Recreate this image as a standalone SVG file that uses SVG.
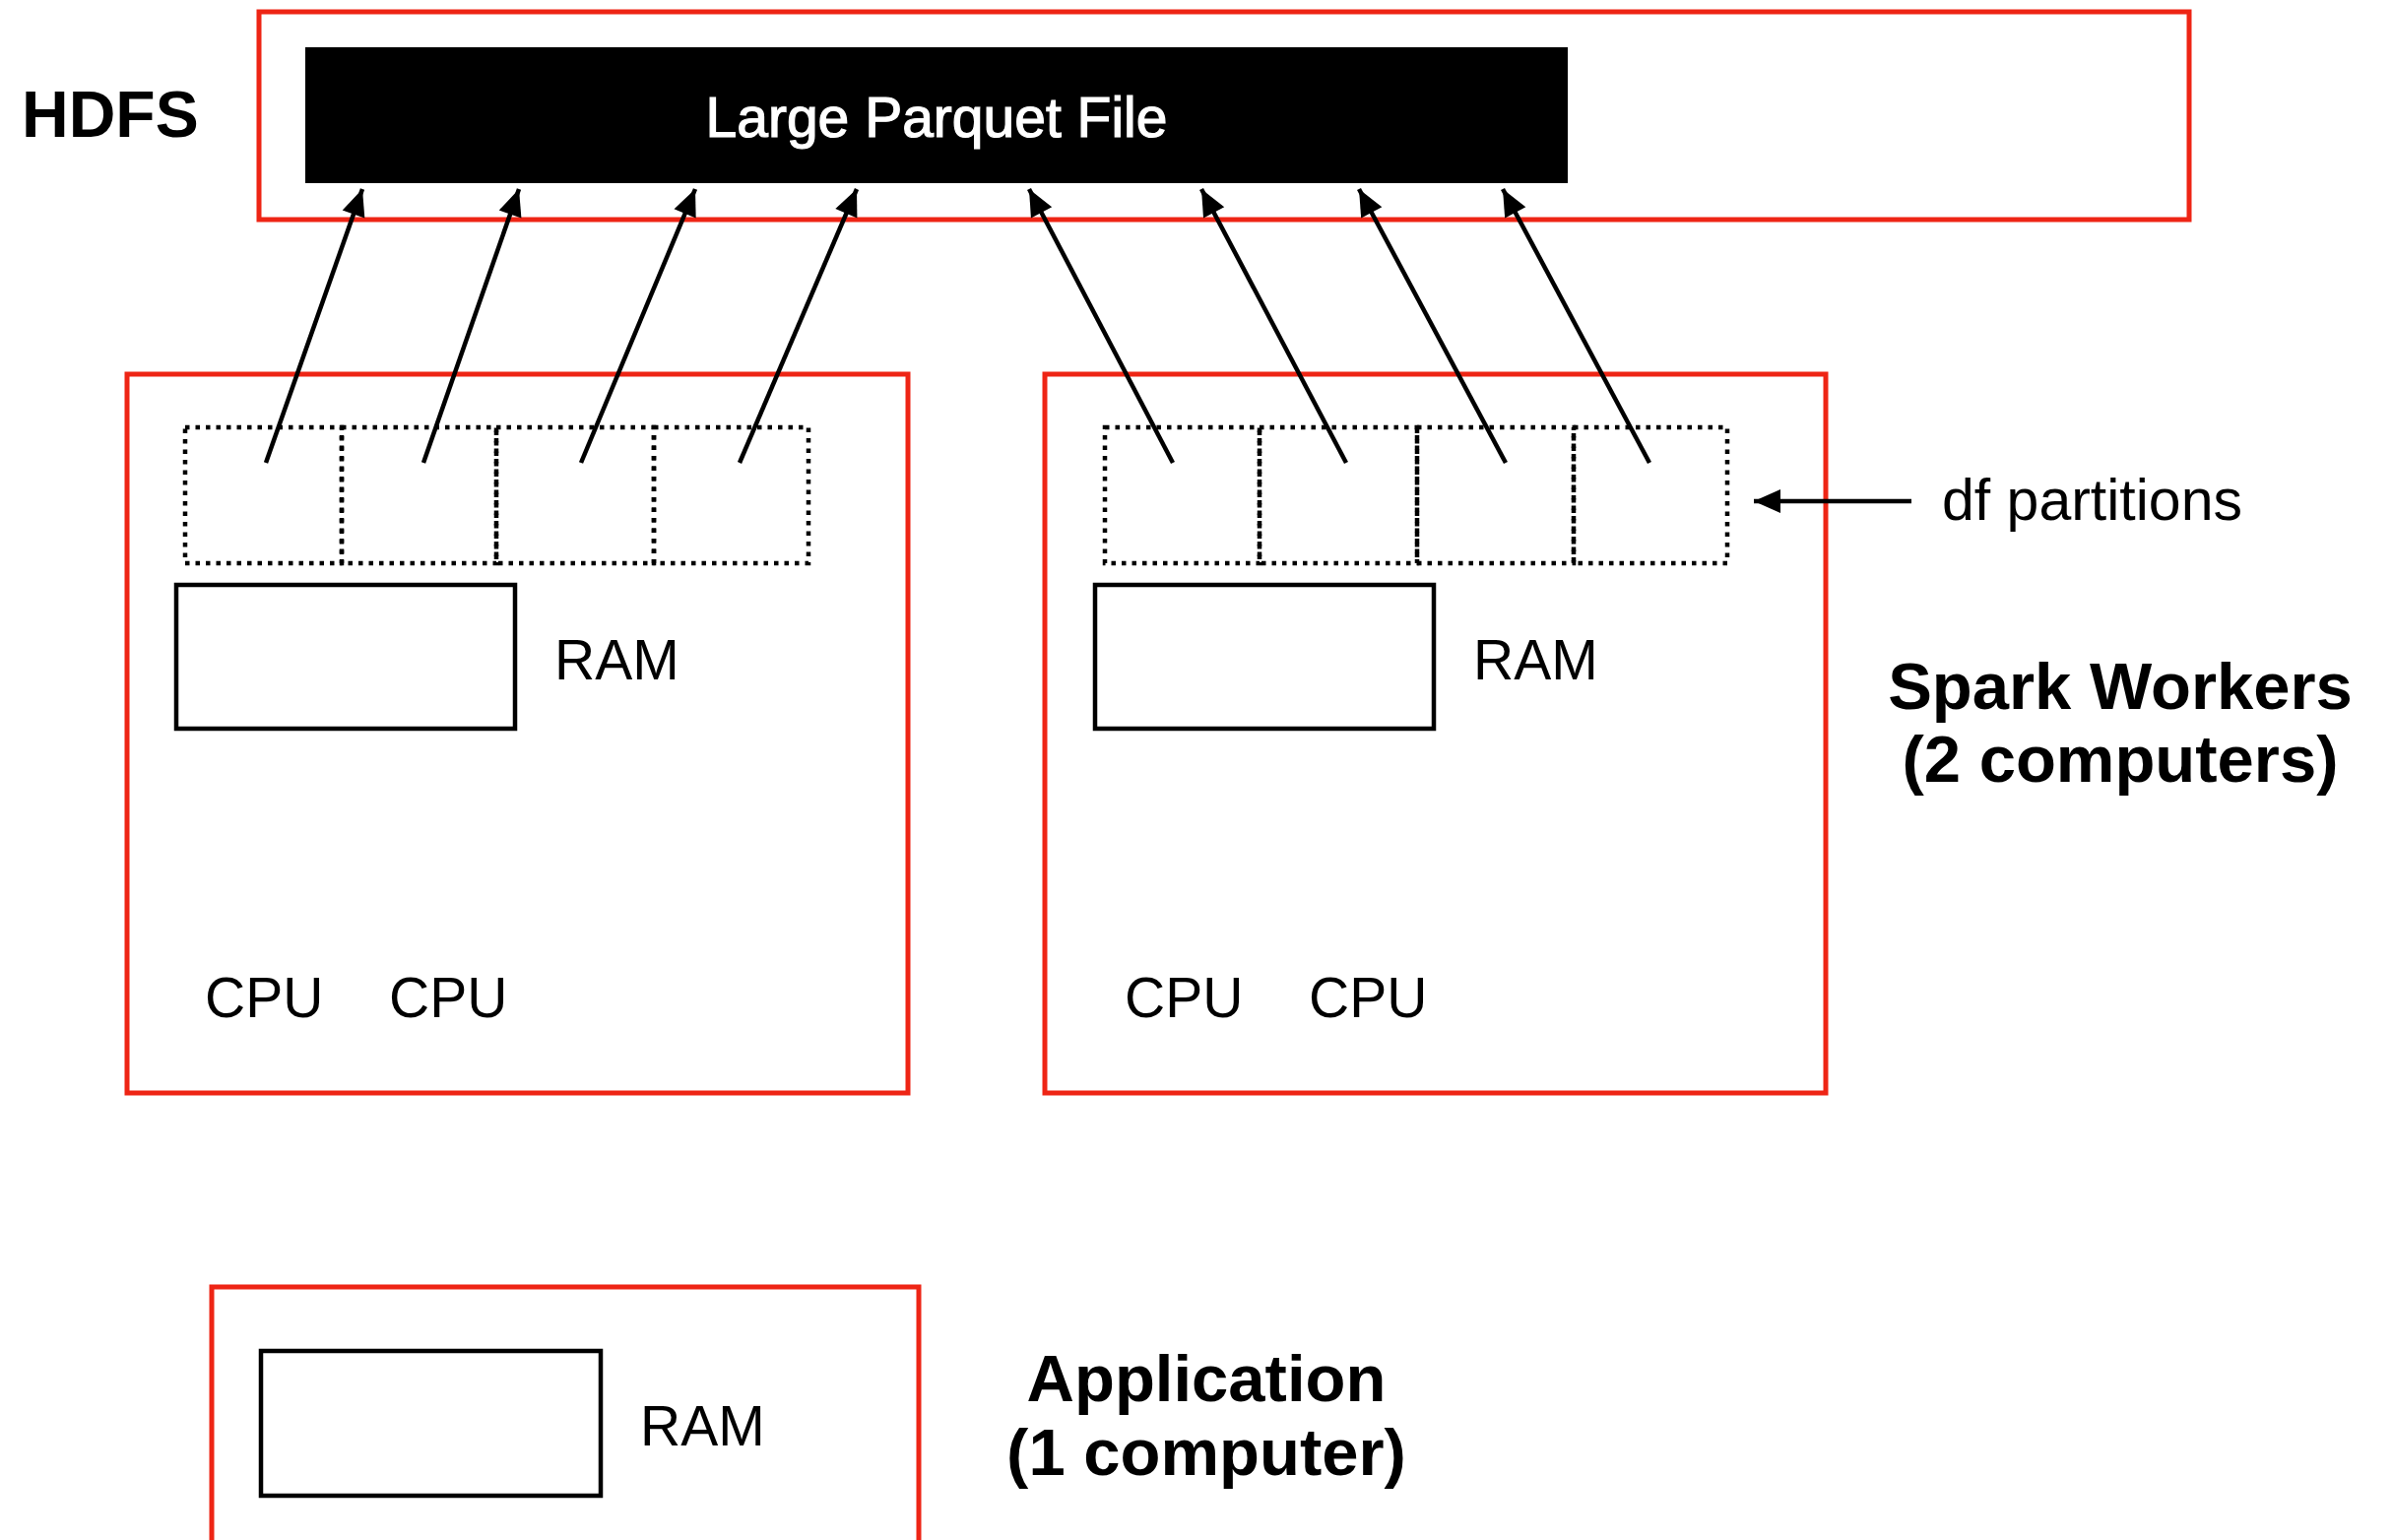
<svg xmlns="http://www.w3.org/2000/svg" width="2429" height="1564" viewBox="0 0 2429 1564">
<style>
.frame{fill:none;stroke:#EE2515;stroke-width:5}
.ram{fill:#fff;stroke:#000;stroke-width:4.5}
.part{fill:none;stroke:#000;stroke-width:4.5;stroke-dasharray:4.5 6}
.t{font-family:"Liberation Sans",Arial,sans-serif;fill:#000}
.lbl{font-size:57px}
.bold{font-size:67px;font-weight:bold}
.conn{stroke:#000;stroke-width:4.5;fill:none;marker-end:url(#ah)}
</style>
<defs>
<marker id="ah" markerUnits="userSpaceOnUse" markerWidth="30" markerHeight="28" viewBox="-28 -14 30 28" refX="0" refY="0" orient="auto">
<path d="M0,0 L-27,-12 L-27,12 Z" fill="#000"/>
</marker>
</defs>
<rect width="2429" height="1564" fill="#fff"/>

<g id="hdfs-label"><text class="t bold" x="22" y="139" font-size="66" style="font-size:66px">HDFS</text></g>
<g id="hdfs">
<rect class="frame" x="263" y="12" width="1960" height="211"/>
<rect x="310" y="48" width="1282" height="138" fill="#000"/>
<text class="t" x="951" y="139" font-size="57" style="fill:#fff;stroke:#fff;stroke-width:1.2" text-anchor="middle">Large Parquet File</text>
</g>

<g id="worker1">
<rect class="frame" x="129" y="380" width="793" height="730"/>
<rect class="part" x="188" y="434" width="159" height="138"/>
<rect class="part" x="347" y="434" width="157" height="138"/>
<rect class="part" x="504" y="434" width="160" height="138"/>
<rect class="part" x="664" y="434" width="157" height="138"/>
<rect class="ram" x="179" y="594" width="344" height="146"/>
<text class="t lbl" x="563" y="690">RAM</text>
<text class="t lbl" x="208" y="1033">CPU</text>
<text class="t lbl" x="395" y="1033">CPU</text>
</g>

<g id="worker2">
<rect class="frame" x="1061" y="380" width="793" height="730"/>
<rect class="part" x="1122" y="434" width="157" height="138"/>
<rect class="part" x="1279" y="434" width="160" height="138"/>
<rect class="part" x="1439" y="434" width="159" height="138"/>
<rect class="part" x="1598" y="434" width="156" height="138"/>
<rect class="ram" x="1112" y="594" width="344" height="146"/>
<text class="t lbl" x="1496" y="690">RAM</text>
<text class="t lbl" x="1142" y="1033">CPU</text>
<text class="t lbl" x="1329" y="1033">CPU</text>
</g>

<g id="df-partitions-label">
<text class="t" x="1972" y="528" font-size="59">df partitions</text>
</g>

<g id="spark-workers-label">
<text class="t bold" x="2153" y="720" text-anchor="middle">Spark Workers</text>
<text class="t bold" x="2153" y="794" text-anchor="middle">(2 computers)</text>
</g>

<g id="application">
<rect class="frame" x="215" y="1307" width="718" height="300"/>
<rect class="ram" x="265" y="1372" width="345" height="147"/>
<text class="t lbl" x="650" y="1468">RAM</text>
</g>

<g id="application-label">
<text class="t bold" x="1225" y="1423" text-anchor="middle">Application</text>
<text class="t bold" x="1225" y="1498" text-anchor="middle">(1 computer)</text>
</g>

<g id="connectors">
<line class="conn" x1="270" y1="470" x2="368" y2="192"/>
<line class="conn" x1="430" y1="470" x2="527" y2="192"/>
<line class="conn" x1="590" y1="470" x2="706" y2="192"/>
<line class="conn" x1="751" y1="470" x2="870" y2="192"/>
<line class="conn" x1="1191" y1="470" x2="1045" y2="192"/>
<line class="conn" x1="1367" y1="470" x2="1220" y2="192"/>
<line class="conn" x1="1529" y1="470" x2="1380" y2="192"/>
<line class="conn" x1="1675" y1="470" x2="1526" y2="192"/>
<line class="conn" x1="1941" y1="509" x2="1781" y2="509"/>
</g>
</svg>
